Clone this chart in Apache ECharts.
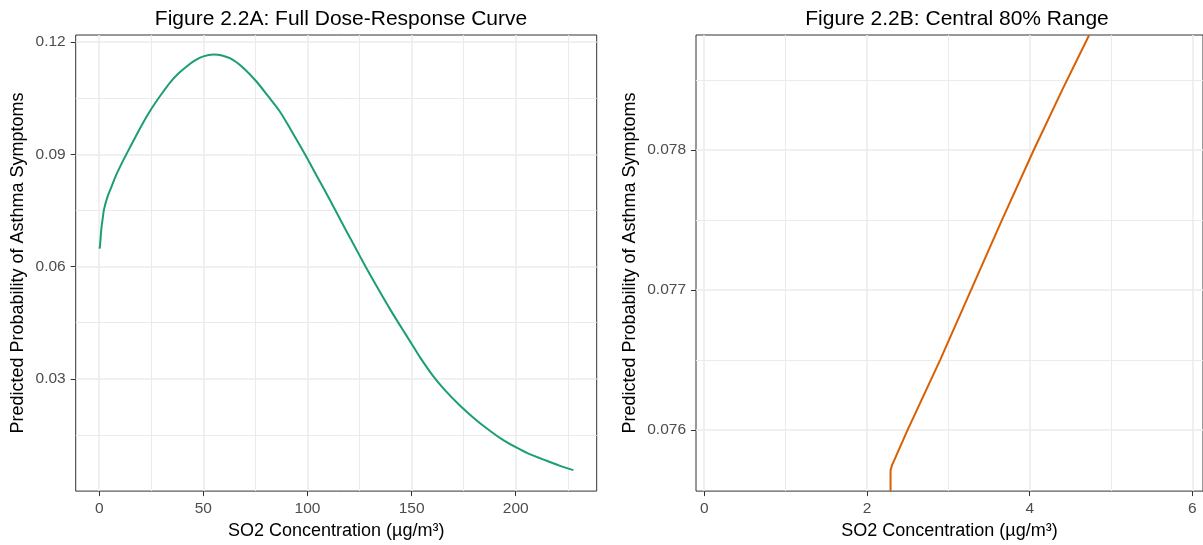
<!DOCTYPE html>
<html>
<head>
<meta charset="utf-8">
<script src="https://cdn.jsdelivr.net/npm/echarts@6/dist/echarts.min.js"></script>
<style>
html,body{margin:0;padding:0;background:#fff;}
#c{width:1203px;height:545px;}
</style>
</head>
<body>
<div id="c"></div>
<script>
// Panel A: full dose-response curve
const doseA = [0, 0.3, 1.0, 1.6, 2.3, 4, 6, 8, 10.8, 14.7, 20.4, 25.2, 30, 34, 38, 42, 46, 50, 54.8, 59, 64.4, 70, 75.6, 81, 86.8, 92, 98.8, 104, 110.8, 116, 122, 128, 134, 140, 146, 150, 154, 160, 166, 173.2, 180, 186, 193.3, 200.5, 207, 214.9, 221, 227.7];
const probA = [0.0648, 0.0652, 0.0700, 0.0726, 0.0753, 0.0787, 0.0815, 0.0843, 0.0876, 0.0918, 0.0978, 0.1023, 0.1062, 0.1092, 0.1116, 0.1135, 0.1151, 0.1162, 0.1167, 0.1164, 0.1152, 0.1127, 0.1094, 0.1056, 0.1014, 0.0966, 0.0900, 0.0847, 0.0778, 0.0723, 0.0661, 0.0599, 0.0540, 0.0483, 0.0429, 0.0394, 0.0358, 0.0310, 0.0270, 0.0229, 0.0195, 0.0168, 0.0139, 0.0116, 0.0098, 0.0081, 0.0068, 0.0056];
// Panel B: central 80% range
const doseB = [2.29, 2.29, 2.31, 2.50, 2.90, 3.28, 3.66, 4.05, 4.40, 4.73];
const probB = [0.07556, 0.07571, 0.07575, 0.07600, 0.07650, 0.07700, 0.07750, 0.07800, 0.07843, 0.07882];

// Tick labels / gridlines
const xTicksA = [0, 50, 100, 150, 200];
const xMinorA = [25, 75, 125, 175, 225];
const yTicksA = [0.03, 0.06, 0.09, 0.12];
const yMinorA = [0.015, 0.045, 0.075, 0.105];
const xTicksB = [0, 2, 4, 6];
const xMinorB = [1, 3, 5];
const yTicksB = [0.076, 0.077, 0.078];
const yMinorB = [0.0765, 0.0775, 0.0785];

const titleA = 'Figure 2.2A: Full Dose-Response Curve';
const titleB = 'Figure 2.2B: Central 80% Range';
const xName = 'SO2 Concentration (µg/m³)';
const yName = 'Predicted Probability of Asthma Symptoms';

const FONT = '"Liberation Sans", Arial, sans-serif';
const GRID_COL = '#EBEBEB';

function mainAxis(gridIndex, min, max, ticks, name, nameGap) {
  return {
    type: 'value', gridIndex, min, max,
    name, nameLocation: 'middle', nameGap,
    nameTextStyle: {fontFamily: FONT, fontSize: 18, color: '#000'},
    axisLine: {show: false, onZero: false},
    axisTick: {show: true, length: 5, lineStyle: {color: '#333', width: 1}, customValues: ticks},
    axisLabel: {show: true, customValues: ticks, fontFamily: FONT, fontSize: 15.5, color: '#4D4D4D', margin: 10},
    splitLine: {show: true, lineStyle: {color: GRID_COL, width: 1.5}},
    z: 1
  };
}
function minorAxis(gridIndex, min, max, vals) {
  return {
    type: 'value', gridIndex, min, max,
    axisLine: {show: false, onZero: false},
    axisTick: {show: false, customValues: vals},
    axisLabel: {show: false, customValues: vals},
    splitLine: {show: true, lineStyle: {color: GRID_COL, width: 1}}
  };
}

const xA = [-11.3, 238.9], yA = [0, 0.1219];
const xB = [-0.101, 6.13], yB = [0.075562, 0.078822];

const option = {
  animation: false,
  backgroundColor: '#fff',
  title: [
    {text: titleA, left: 336, top: 4, textAlign: 'center', textStyle: {fontFamily: FONT, fontSize: 21, fontWeight: 'normal', color: '#000'}},
    {text: titleB, left: 952, top: 4, textAlign: 'center', textStyle: {fontFamily: FONT, fontSize: 21, fontWeight: 'normal', color: '#000'}}
  ],
  grid: [
    {left: 75.7, top: 35, width: 521, height: 459, show: true, borderColor: '#333', borderWidth: 1, backgroundColor: 'transparent'},
    {left: 696, top: 35, width: 512, height: 459, show: true, borderColor: '#333', borderWidth: 1, backgroundColor: 'transparent'}
  ],
  xAxis: [
    mainAxis(0, xA[0], xA[1], xTicksA, xName, 25),
    mainAxis(1, xB[0], xB[1], xTicksB, xName, 25),
    minorAxis(0, xA[0], xA[1], xMinorA),
    minorAxis(1, xB[0], xB[1], xMinorB)
  ],
  yAxis: [
    mainAxis(0, yA[0], yA[1], yTicksA, yName, 49),
    mainAxis(1, yB[0], yB[1], yTicksB, yName, 57),
    minorAxis(0, yA[0], yA[1], yMinorA),
    minorAxis(1, yB[0], yB[1], yMinorB)
  ],
  series: [
    {type: 'line', xAxisIndex: 0, yAxisIndex: 0, showSymbol: false, smooth: 0.25,
     data: doseA.map((d, i) => [d, probA[i]]), lineStyle: {color: '#1B9E77', width: 2}, clip: true, z: 5},
    {type: 'line', xAxisIndex: 1, yAxisIndex: 1, showSymbol: false, smooth: false,
     data: doseB.map((d, i) => [d, probB[i]]), lineStyle: {color: '#D95F02', width: 2}, clip: true, z: 5}
  ]
};
const chart = echarts.init(document.getElementById('c'), null, {renderer: 'canvas'});
chart.setOption(option);
</script>
</body>
</html>
